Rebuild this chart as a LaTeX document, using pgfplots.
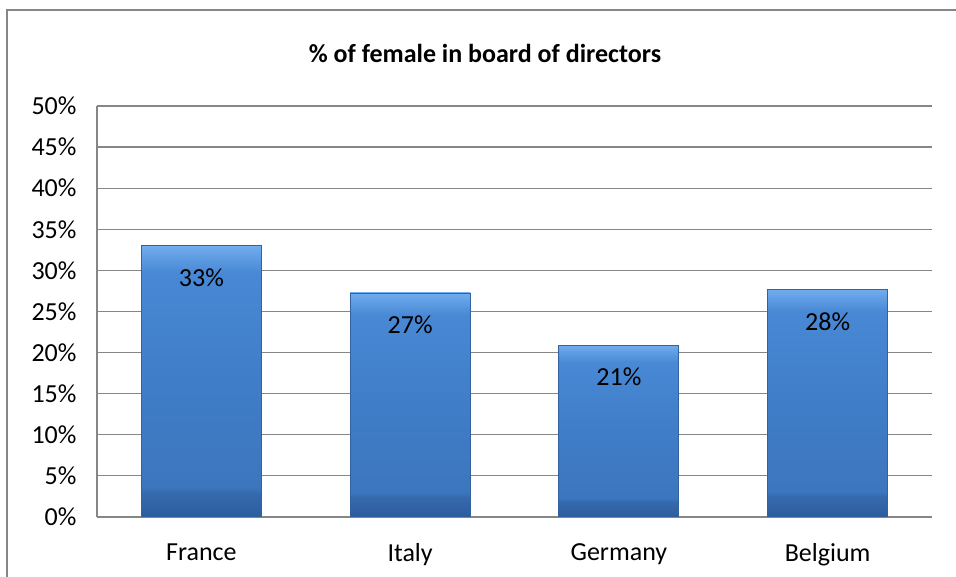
\documentclass[border=0pt]{standalone}
\usepackage{fontspec}
\setmainfont{Carlito}
\usepackage{pgfplots}
\pgfplotsset{compat=1.18}
\definecolor{gridgray}{RGB}{134,134,134}
\definecolor{baredge}{RGB}{52,98,158}
\definecolor{bsA}{RGB}{44,92,158}
\definecolor{bsB}{RGB}{54,106,174}
\definecolor{bsC}{RGB}{60,118,190}
\definecolor{bsD}{RGB}{64,125,200}
\definecolor{bsE}{RGB}{72,136,212}
\definecolor{bsG}{RGB}{112,172,238}
\pgfdeclareverticalshading{barshade}{100bp}{%
  color(0bp)=(bsA);
  color(25bp)=(bsA);
  color(29.5bp)=(bsB);
  color(30.5bp)=(bsC);
  color(50bp)=(bsD);
  color(70bp)=(bsE);
  color(75bp)=(bsG);
  color(100bp)=(bsG)}
\pgfplotsset{barstyle/.style={draw=baredge, line width=0.8bp, shade, shading=barshade}}
\begin{document}
\begin{tikzpicture}[x=1bp,y=1bp]
\useasboundingbox (0,0) rectangle (956,577);
\draw[gridgray, line width=1.5bp] (7,-10) -- (7,567) -- (970,567);
\node[font=\fontsize{26bp}{30bp}\selectfont\bfseries] at (485,524) {\% of female in board of directors};
\begin{axis}[
  at={(97bp,60bp)}, anchor=south west,
  scale only axis, width=835bp, height=411bp,
  xmin=-0.5, xmax=3.5, ymin=0, ymax=50,
  ytick={0,5,...,50},
  xtick={0,1,2,3}, xticklabels={France,Italy,Germany,Belgium},
  ybar, bar width=120bp, bar shift=0pt,
  ymajorgrids, grid style={gridgray, line width=1.2bp},
  axis x line*=bottom, axis y line*=left,
  axis line style={gridgray, line width=1.2bp},
  major tick length=0pt,
  tick style={draw=none},
  /pgf/number format/assume math mode=true,
  yticklabel={\pgfmathprintnumber{\tick}\%},
  ticklabel style={font=\fontsize{26bp}{30bp}\selectfont},
  yticklabel style={xshift=-17bp},
  xticklabel style={yshift=-23bp},
  nodes near coords={\pgfmathprintnumber[fixed,precision=0]{\pgfplotspointmeta}\%},
  every node near coord/.append style={font=\fontsize{26bp}{30bp}\selectfont, text=black, anchor=center, yshift=-32bp},
]
\addplot[barstyle] coordinates {(0,33.0)};
\addplot[barstyle] coordinates {(1,27.25)};
\addplot[barstyle] coordinates {(2,20.9)};
\addplot[barstyle] coordinates {(3,27.7)};
\end{axis}
\end{tikzpicture}
\end{document}
